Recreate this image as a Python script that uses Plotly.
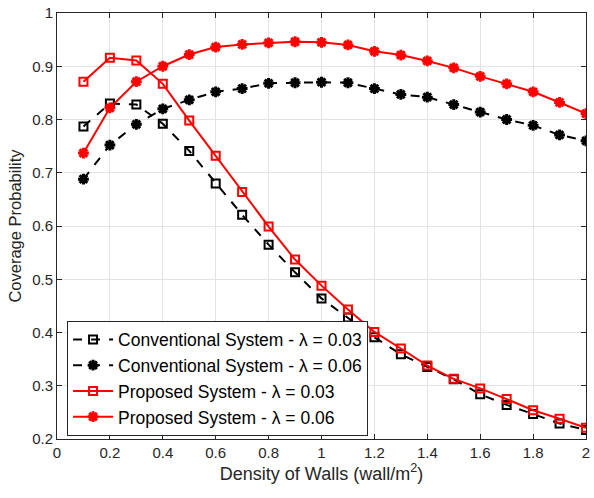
import plotly.graph_objects as go

x = [0.1, 0.2, 0.3, 0.4, 0.5, 0.6, 0.7, 0.8, 0.9, 1.0,
     1.1, 1.2, 1.3, 1.4, 1.5, 1.6, 1.7, 1.8, 1.9, 2.0]

conv_003 = [0.787, 0.830, 0.828, 0.792, 0.741, 0.680, 0.621, 0.565, 0.513, 0.464,
            0.428, 0.391, 0.359, 0.335, 0.312, 0.284, 0.264, 0.247, 0.229, 0.217]
conv_006 = [0.688, 0.752, 0.791, 0.820, 0.837, 0.852, 0.858, 0.868, 0.869, 0.870,
            0.869, 0.858, 0.847, 0.842, 0.828, 0.814, 0.800, 0.789, 0.771, 0.760]
prop_003 = [0.871, 0.916, 0.911, 0.867, 0.798, 0.732, 0.664, 0.599, 0.537, 0.488,
            0.443, 0.401, 0.370, 0.338, 0.313, 0.295, 0.275, 0.254, 0.238, 0.221]
prop_006 = [0.737, 0.822, 0.871, 0.900, 0.922, 0.936, 0.941, 0.944, 0.946, 0.945,
            0.940, 0.928, 0.921, 0.910, 0.897, 0.881, 0.867, 0.852, 0.832, 0.811]

names = ["Conventional System - λ = 0.03",
         "Conventional System - λ = 0.06",
         "Proposed System - λ = 0.03",
         "Proposed System - λ = 0.06"]

x_ticks = [0, 0.2, 0.4, 0.6, 0.8, 1, 1.2, 1.4, 1.6, 1.8, 2]
x_tick_text = ["0", "0.2", "0.4", "0.6", "0.8", "1", "1.2", "1.4", "1.6", "1.8", "2"]
y_ticks = [0.2, 0.3, 0.4, 0.5, 0.6, 0.7, 0.8, 0.9, 1]
y_tick_text = ["0.2", "0.3", "0.4", "0.5", "0.6", "0.7", "0.8", "0.9", "1"]

series = [
    (conv_003, "black", "dash", "square-open", 8, 2),
    (conv_006, "black", "dash", "asterisk-open", 9, 3),
    (prop_003, "red", "solid", "square-open", 8, 2),
    (prop_006, "red", "solid", "asterisk-open", 9, 3),
]

fig = go.Figure()
for i, (ys, col, dash, sym, msize, mlw) in enumerate(series):
    fig.add_trace(go.Scatter(
        x=x, y=ys, mode="lines+markers", name=names[i],
        legendgroup=f"g{i}",
        line=dict(color=col, width=2, dash=dash),
        marker=dict(symbol=sym, size=msize, color=col,
                    line=dict(color=col, width=mlw)),
    ))

axis_common = dict(
    showline=True, linecolor="#262626", linewidth=1, mirror="ticks",
    ticks="inside", ticklen=5, tickcolor="#262626",
    showgrid=True, gridcolor="#e3e3e3", gridwidth=1,
    zeroline=False, ticklabeloverflow="allow",
    tickfont=dict(size=15, color="#262626"),
)

fig.update_layout(
    width=594, height=498,
    margin=dict(l=57, r=4, t=12, b=59),
    paper_bgcolor="white", plot_bgcolor="white",
    font=dict(family="Liberation Sans, Arial, sans-serif", color="#262626"),
    xaxis=dict(range=[0, 2], tickvals=x_ticks, ticktext=x_tick_text,
               title=dict(text="Density of Walls (wall/m<sup>2</sup>)",
                          font=dict(size=18), standoff=6),
               **axis_common),
    yaxis=dict(range=[0.2, 1], tickvals=y_ticks, ticktext=y_tick_text,
               title=dict(text="Coverage Probability", font=dict(size=16.5), standoff=6),
               **axis_common),
    legend=dict(x=0.019, y=0.278, xanchor="left", yanchor="top",
                bgcolor="white", bordercolor="#262626", borderwidth=1,
                font=dict(size=17.5, color="black"),
                itemwidth=40,
                traceorder="grouped", tracegroupgap=0),
    showlegend=True,
)

fig.write_html("out.html")
